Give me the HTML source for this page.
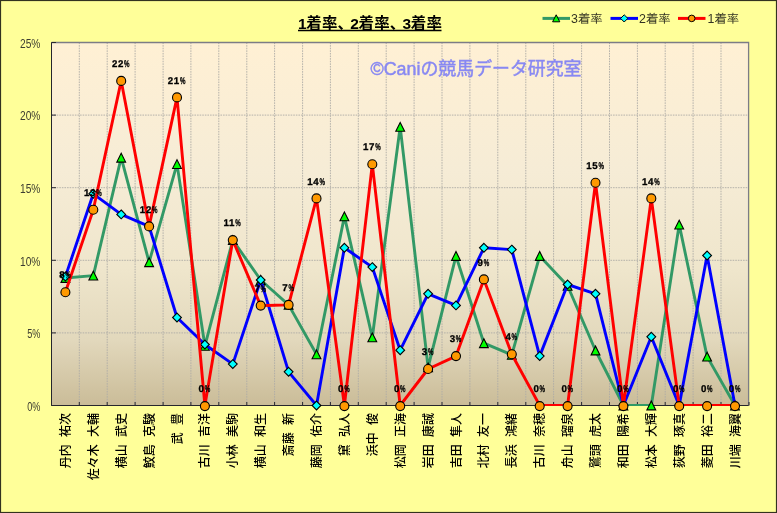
<!DOCTYPE html>
<html lang="ja"><head><meta charset="utf-8"><title>1着率、2着率、3着率</title>
<style>
html,body{margin:0;padding:0;background:#ffff99;}
body{width:777px;height:513px;overflow:hidden;}
svg{display:block;}
text{font-family:"Liberation Sans","Noto Sans CJK JP",sans-serif;}
.nm{font-family:"Liberation Sans","Noto Sans CJK JP",sans-serif;font-size:12px;font-weight:500;fill:#000;word-spacing:3.9px;}
.dl{font-family:"Liberation Sans","Noto Sans CJK JP",sans-serif;font-size:9.7px;font-weight:700;fill:#000;letter-spacing:0.7px;stroke:#000;stroke-width:0.3px;text-rendering:geometricPrecision;}
.dl .p{font-size:9.7px;letter-spacing:0;}
.ax{font-family:"Liberation Sans",sans-serif;font-size:12.5px;fill:#3c3c30;}
.lg{font-family:"Liberation Sans","IPAGothic","Noto Sans CJK JP",sans-serif;font-size:12.4px;fill:#333322;}
.ti{font-family:"Liberation Sans","Noto Sans CJK JP",sans-serif;font-size:15.5px;font-weight:700;fill:#000;}
.wm{font-family:"Liberation Sans","Noto Sans CJK JP",sans-serif;font-size:18px;fill:#8888f2;stroke:#8888f2;stroke-width:0.45px;}
</style></head><body>
<svg width="777" height="513" viewBox="0 0 777 513">
<defs>
<linearGradient id="pg" x1="0" y1="0" x2="0" y2="1">
<stop offset="0" stop-color="#fff0d4"/>
<stop offset="0.35" stop-color="#f6ecd6"/>
<stop offset="0.62" stop-color="#efe6cc"/>
<stop offset="0.82" stop-color="#e2d8bc"/>
<stop offset="1" stop-color="#cabc98"/>
</linearGradient>
<clipPath id="cp"><rect x="40" y="30" width="720" height="376.1"/></clipPath>
<filter id="bl" x="0" y="0" width="777" height="513" filterUnits="userSpaceOnUse"><feGaussianBlur stdDeviation="0.45"/></filter>
</defs>
<rect x="0" y="0" width="777" height="513" fill="#ffff99"/>
<rect x="0.5" y="0.5" width="776" height="512" fill="none" stroke="#33331f" stroke-width="1.2"/>
<g filter="url(#bl)">

<rect x="51.5" y="42.5" width="697.1" height="363.0" fill="url(#pg)"/>
<g stroke="#aeaca6" stroke-width="1" stroke-dasharray="1.6 1" fill="none" opacity="0.9">
<line x1="51.45" y1="332.9" x2="748.95" y2="332.9"/>
<line x1="51.45" y1="260.3" x2="748.95" y2="260.3"/>
<line x1="51.45" y1="187.7" x2="748.95" y2="187.7"/>
<line x1="51.45" y1="115.1" x2="748.95" y2="115.1"/>
<line x1="79.3" y1="42.5" x2="79.3" y2="405.5"/>
<line x1="107.2" y1="42.5" x2="107.2" y2="405.5"/>
<line x1="135.1" y1="42.5" x2="135.1" y2="405.5"/>
<line x1="163.1" y1="42.5" x2="163.1" y2="405.5"/>
<line x1="190.9" y1="42.5" x2="190.9" y2="405.5"/>
<line x1="218.8" y1="42.5" x2="218.8" y2="405.5"/>
<line x1="246.8" y1="42.5" x2="246.8" y2="405.5"/>
<line x1="274.6" y1="42.5" x2="274.6" y2="405.5"/>
<line x1="302.6" y1="42.5" x2="302.6" y2="405.5"/>
<line x1="330.4" y1="42.5" x2="330.4" y2="405.5"/>
<line x1="358.3" y1="42.5" x2="358.3" y2="405.5"/>
<line x1="386.2" y1="42.5" x2="386.2" y2="405.5"/>
<line x1="414.1" y1="42.5" x2="414.1" y2="405.5"/>
<line x1="442.0" y1="42.5" x2="442.0" y2="405.5"/>
<line x1="469.9" y1="42.5" x2="469.9" y2="405.5"/>
<line x1="497.8" y1="42.5" x2="497.8" y2="405.5"/>
<line x1="525.8" y1="42.5" x2="525.8" y2="405.5"/>
<line x1="553.6" y1="42.5" x2="553.6" y2="405.5"/>
<line x1="581.6" y1="42.5" x2="581.6" y2="405.5"/>
<line x1="609.5" y1="42.5" x2="609.5" y2="405.5"/>
<line x1="637.4" y1="42.5" x2="637.4" y2="405.5"/>
<line x1="665.2" y1="42.5" x2="665.2" y2="405.5"/>
<line x1="693.1" y1="42.5" x2="693.1" y2="405.5"/>
<line x1="721.0" y1="42.5" x2="721.0" y2="405.5"/>
</g>
<text class="wm" x="370.5" y="74.5" textLength="211" lengthAdjust="spacingAndGlyphs">©Caniの競馬データ研究室</text>
<path d="M51.5 42.5H748.6V405.5" fill="none" stroke="#7c7c86" stroke-width="1.3"/>
<path d="M51.5 42.5V405.5H748.6" fill="none" stroke="#26262e" stroke-width="1"/>
<g stroke="#26262e" stroke-width="1">
<line x1="51.45" y1="405.5" x2="55.95" y2="405.5"/>
<line x1="51.45" y1="332.9" x2="55.95" y2="332.9"/>
<line x1="51.45" y1="260.3" x2="55.95" y2="260.3"/>
<line x1="51.45" y1="187.7" x2="55.95" y2="187.7"/>
<line x1="51.45" y1="115.1" x2="55.95" y2="115.1"/>
<line x1="51.45" y1="42.5" x2="55.95" y2="42.5"/>
<line x1="51.5" y1="405.5" x2="51.5" y2="402.0"/>
<line x1="79.3" y1="405.5" x2="79.3" y2="402.0"/>
<line x1="107.2" y1="405.5" x2="107.2" y2="402.0"/>
<line x1="135.1" y1="405.5" x2="135.1" y2="402.0"/>
<line x1="163.1" y1="405.5" x2="163.1" y2="402.0"/>
<line x1="190.9" y1="405.5" x2="190.9" y2="402.0"/>
<line x1="218.8" y1="405.5" x2="218.8" y2="402.0"/>
<line x1="246.8" y1="405.5" x2="246.8" y2="402.0"/>
<line x1="274.6" y1="405.5" x2="274.6" y2="402.0"/>
<line x1="302.6" y1="405.5" x2="302.6" y2="402.0"/>
<line x1="330.4" y1="405.5" x2="330.4" y2="402.0"/>
<line x1="358.3" y1="405.5" x2="358.3" y2="402.0"/>
<line x1="386.2" y1="405.5" x2="386.2" y2="402.0"/>
<line x1="414.1" y1="405.5" x2="414.1" y2="402.0"/>
<line x1="442.0" y1="405.5" x2="442.0" y2="402.0"/>
<line x1="469.9" y1="405.5" x2="469.9" y2="402.0"/>
<line x1="497.8" y1="405.5" x2="497.8" y2="402.0"/>
<line x1="525.8" y1="405.5" x2="525.8" y2="402.0"/>
<line x1="553.6" y1="405.5" x2="553.6" y2="402.0"/>
<line x1="581.6" y1="405.5" x2="581.6" y2="402.0"/>
<line x1="609.5" y1="405.5" x2="609.5" y2="402.0"/>
<line x1="637.4" y1="405.5" x2="637.4" y2="402.0"/>
<line x1="665.2" y1="405.5" x2="665.2" y2="402.0"/>
<line x1="693.1" y1="405.5" x2="693.1" y2="402.0"/>
<line x1="721.0" y1="405.5" x2="721.0" y2="402.0"/>
<line x1="749.0" y1="405.5" x2="749.0" y2="402.0"/>
</g>
<text class="ax" x="40.4" y="410.7" text-anchor="end" textLength="13.2" lengthAdjust="spacingAndGlyphs">0%</text>
<text class="ax" x="40.4" y="338.1" text-anchor="end" textLength="13.2" lengthAdjust="spacingAndGlyphs">5%</text>
<text class="ax" x="40.4" y="265.5" text-anchor="end" textLength="20.4" lengthAdjust="spacingAndGlyphs">10%</text>
<text class="ax" x="40.4" y="192.9" text-anchor="end" textLength="20.4" lengthAdjust="spacingAndGlyphs">15%</text>
<text class="ax" x="40.4" y="120.3" text-anchor="end" textLength="20.4" lengthAdjust="spacingAndGlyphs">20%</text>
<text class="ax" x="40.4" y="47.7" text-anchor="end" textLength="20.4" lengthAdjust="spacingAndGlyphs">25%</text>
<polyline clip-path="url(#cp)" points="65.4,278.0 93.3,275.6 121.2,157.7 149.1,262.2 177.0,164.1 204.9,345.8 232.8,240.1 260.7,280.0 288.6,304.9 316.5,354.3 344.4,216.4 372.3,337.3 400.2,126.8 428.1,367.3 456.0,256.0 483.9,343.2 511.8,354.8 539.7,256.0 567.6,285.8 595.5,350.5 623.4,405.5 651.3,405.5 679.2,224.6 707.1,356.6 735.0,405.5" fill="none" stroke="#339966" stroke-width="2.9" stroke-linejoin="round"/>
<path d="M65.4 273.6L69.8 282.4H61.0Z" fill="#00ff00" stroke="#000" stroke-width="1.1" stroke-linejoin="miter"/>
<path d="M93.3 271.2L97.7 280.0H88.9Z" fill="#00ff00" stroke="#000" stroke-width="1.1" stroke-linejoin="miter"/>
<path d="M121.2 153.3L125.6 162.1H116.8Z" fill="#00ff00" stroke="#000" stroke-width="1.1" stroke-linejoin="miter"/>
<path d="M149.1 257.8L153.5 266.6H144.7Z" fill="#00ff00" stroke="#000" stroke-width="1.1" stroke-linejoin="miter"/>
<path d="M177.0 159.7L181.4 168.5H172.6Z" fill="#00ff00" stroke="#000" stroke-width="1.1" stroke-linejoin="miter"/>
<path d="M204.9 341.4L209.3 350.2H200.5Z" fill="#00ff00" stroke="#000" stroke-width="1.1" stroke-linejoin="miter"/>
<path d="M232.8 235.7L237.2 244.5H228.4Z" fill="#00ff00" stroke="#000" stroke-width="1.1" stroke-linejoin="miter"/>
<path d="M260.7 275.6L265.1 284.4H256.3Z" fill="#00ff00" stroke="#000" stroke-width="1.1" stroke-linejoin="miter"/>
<path d="M288.6 300.5L293.0 309.3H284.2Z" fill="#00ff00" stroke="#000" stroke-width="1.1" stroke-linejoin="miter"/>
<path d="M316.5 349.9L320.9 358.7H312.1Z" fill="#00ff00" stroke="#000" stroke-width="1.1" stroke-linejoin="miter"/>
<path d="M344.4 212.0L348.8 220.8H340.0Z" fill="#00ff00" stroke="#000" stroke-width="1.1" stroke-linejoin="miter"/>
<path d="M372.3 332.9L376.7 341.7H367.9Z" fill="#00ff00" stroke="#000" stroke-width="1.1" stroke-linejoin="miter"/>
<path d="M400.2 122.4L404.6 131.2H395.8Z" fill="#00ff00" stroke="#000" stroke-width="1.1" stroke-linejoin="miter"/>
<path d="M428.1 362.9L432.5 371.7H423.7Z" fill="#00ff00" stroke="#000" stroke-width="1.1" stroke-linejoin="miter"/>
<path d="M456.0 251.6L460.4 260.4H451.6Z" fill="#00ff00" stroke="#000" stroke-width="1.1" stroke-linejoin="miter"/>
<path d="M483.9 338.8L488.3 347.6H479.5Z" fill="#00ff00" stroke="#000" stroke-width="1.1" stroke-linejoin="miter"/>
<path d="M511.8 350.4L516.2 359.2H507.4Z" fill="#00ff00" stroke="#000" stroke-width="1.1" stroke-linejoin="miter"/>
<path d="M539.7 251.6L544.1 260.4H535.3Z" fill="#00ff00" stroke="#000" stroke-width="1.1" stroke-linejoin="miter"/>
<path d="M567.6 281.4L572.0 290.2H563.2Z" fill="#00ff00" stroke="#000" stroke-width="1.1" stroke-linejoin="miter"/>
<path d="M595.5 346.1L599.9 354.9H591.1Z" fill="#00ff00" stroke="#000" stroke-width="1.1" stroke-linejoin="miter"/>
<path d="M623.4 401.1L627.8 409.9H619.0Z" fill="#00ff00" stroke="#000" stroke-width="1.1" stroke-linejoin="miter"/>
<path d="M651.3 401.1L655.7 409.9H646.9Z" fill="#00ff00" stroke="#000" stroke-width="1.1" stroke-linejoin="miter"/>
<path d="M679.2 220.2L683.6 229.0H674.8Z" fill="#00ff00" stroke="#000" stroke-width="1.1" stroke-linejoin="miter"/>
<path d="M707.1 352.2L711.5 361.0H702.7Z" fill="#00ff00" stroke="#000" stroke-width="1.1" stroke-linejoin="miter"/>
<path d="M735.0 401.1L739.4 409.9H730.6Z" fill="#00ff00" stroke="#000" stroke-width="1.1" stroke-linejoin="miter"/>
<polyline clip-path="url(#cp)" points="65.4,276.6 93.3,193.8 121.2,214.4 149.1,226.4 177.0,317.5 204.9,344.5 232.8,364.1 260.7,280.0 288.6,371.8 316.5,405.5 344.4,247.8 372.3,267.1 400.2,350.2 428.1,293.8 456.0,305.4 483.9,247.8 511.8,249.6 539.7,356.1 567.6,284.5 595.5,293.8 623.4,405.5 651.3,336.8 679.2,405.5 707.1,255.5 735.0,405.5" fill="none" stroke="#0000ff" stroke-width="2.9" stroke-linejoin="round"/>
<path d="M65.4 272.2L69.8 276.6L65.4 281.0L61.0 276.6Z" fill="#00ffff" stroke="#000" stroke-width="1.1"/>
<path d="M93.3 189.4L97.7 193.8L93.3 198.2L88.9 193.8Z" fill="#00ffff" stroke="#000" stroke-width="1.1"/>
<path d="M121.2 210.0L125.6 214.4L121.2 218.8L116.8 214.4Z" fill="#00ffff" stroke="#000" stroke-width="1.1"/>
<path d="M149.1 222.0L153.5 226.4L149.1 230.8L144.7 226.4Z" fill="#00ffff" stroke="#000" stroke-width="1.1"/>
<path d="M177.0 313.1L181.4 317.5L177.0 321.9L172.6 317.5Z" fill="#00ffff" stroke="#000" stroke-width="1.1"/>
<path d="M204.9 340.1L209.3 344.5L204.9 348.9L200.5 344.5Z" fill="#00ffff" stroke="#000" stroke-width="1.1"/>
<path d="M232.8 359.7L237.2 364.1L232.8 368.5L228.4 364.1Z" fill="#00ffff" stroke="#000" stroke-width="1.1"/>
<path d="M260.7 275.6L265.1 280.0L260.7 284.4L256.3 280.0Z" fill="#00ffff" stroke="#000" stroke-width="1.1"/>
<path d="M288.6 367.4L293.0 371.8L288.6 376.2L284.2 371.8Z" fill="#00ffff" stroke="#000" stroke-width="1.1"/>
<path d="M316.5 401.1L320.9 405.5L316.5 409.9L312.1 405.5Z" fill="#00ffff" stroke="#000" stroke-width="1.1"/>
<path d="M344.4 243.4L348.8 247.8L344.4 252.2L340.0 247.8Z" fill="#00ffff" stroke="#000" stroke-width="1.1"/>
<path d="M372.3 262.7L376.7 267.1L372.3 271.5L367.9 267.1Z" fill="#00ffff" stroke="#000" stroke-width="1.1"/>
<path d="M400.2 345.8L404.6 350.2L400.2 354.6L395.8 350.2Z" fill="#00ffff" stroke="#000" stroke-width="1.1"/>
<path d="M428.1 289.4L432.5 293.8L428.1 298.2L423.7 293.8Z" fill="#00ffff" stroke="#000" stroke-width="1.1"/>
<path d="M456.0 301.0L460.4 305.4L456.0 309.8L451.6 305.4Z" fill="#00ffff" stroke="#000" stroke-width="1.1"/>
<path d="M483.9 243.4L488.3 247.8L483.9 252.2L479.5 247.8Z" fill="#00ffff" stroke="#000" stroke-width="1.1"/>
<path d="M511.8 245.2L516.2 249.6L511.8 254.0L507.4 249.6Z" fill="#00ffff" stroke="#000" stroke-width="1.1"/>
<path d="M539.7 351.7L544.1 356.1L539.7 360.5L535.3 356.1Z" fill="#00ffff" stroke="#000" stroke-width="1.1"/>
<path d="M567.6 280.1L572.0 284.5L567.6 288.9L563.2 284.5Z" fill="#00ffff" stroke="#000" stroke-width="1.1"/>
<path d="M595.5 289.4L599.9 293.8L595.5 298.2L591.1 293.8Z" fill="#00ffff" stroke="#000" stroke-width="1.1"/>
<path d="M623.4 401.1L627.8 405.5L623.4 409.9L619.0 405.5Z" fill="#00ffff" stroke="#000" stroke-width="1.1"/>
<path d="M651.3 332.4L655.7 336.8L651.3 341.2L646.9 336.8Z" fill="#00ffff" stroke="#000" stroke-width="1.1"/>
<path d="M679.2 401.1L683.6 405.5L679.2 409.9L674.8 405.5Z" fill="#00ffff" stroke="#000" stroke-width="1.1"/>
<path d="M707.1 251.1L711.5 255.5L707.1 259.9L702.7 255.5Z" fill="#00ffff" stroke="#000" stroke-width="1.1"/>
<path d="M735.0 401.1L739.4 405.5L735.0 409.9L730.6 405.5Z" fill="#00ffff" stroke="#000" stroke-width="1.1"/>
<polyline clip-path="url(#cp)" points="65.4,292.2 93.3,209.7 121.2,80.9 149.1,226.4 177.0,97.4 204.9,405.5 232.8,240.1 260.7,305.6 288.6,304.9 316.5,198.4 344.4,405.5 372.3,164.2 400.2,405.5 428.1,369.0 456.0,356.1 483.9,279.4 511.8,354.3 539.7,405.5 567.6,405.5 595.5,182.7 623.4,405.5 651.3,198.4 679.2,405.5 707.1,405.5 735.0,405.5" fill="none" stroke="#ff0000" stroke-width="2.9" stroke-linejoin="round"/>
<circle cx="65.4" cy="292.2" r="4.5" fill="#ff9900" stroke="#000" stroke-width="1.1"/>
<circle cx="93.3" cy="209.7" r="4.5" fill="#ff9900" stroke="#000" stroke-width="1.1"/>
<circle cx="121.2" cy="80.9" r="4.5" fill="#ff9900" stroke="#000" stroke-width="1.1"/>
<circle cx="149.1" cy="226.4" r="4.5" fill="#ff9900" stroke="#000" stroke-width="1.1"/>
<circle cx="177.0" cy="97.4" r="4.5" fill="#ff9900" stroke="#000" stroke-width="1.1"/>
<circle cx="204.9" cy="406.1" r="4.5" fill="#ff9900" stroke="#000" stroke-width="1.1"/>
<circle cx="232.8" cy="240.1" r="4.5" fill="#ff9900" stroke="#000" stroke-width="1.1"/>
<circle cx="260.7" cy="305.6" r="4.5" fill="#ff9900" stroke="#000" stroke-width="1.1"/>
<circle cx="288.6" cy="304.9" r="4.5" fill="#ff9900" stroke="#000" stroke-width="1.1"/>
<circle cx="316.5" cy="198.4" r="4.5" fill="#ff9900" stroke="#000" stroke-width="1.1"/>
<circle cx="344.4" cy="406.1" r="4.5" fill="#ff9900" stroke="#000" stroke-width="1.1"/>
<circle cx="372.3" cy="164.2" r="4.5" fill="#ff9900" stroke="#000" stroke-width="1.1"/>
<circle cx="400.2" cy="406.1" r="4.5" fill="#ff9900" stroke="#000" stroke-width="1.1"/>
<circle cx="428.1" cy="369.0" r="4.5" fill="#ff9900" stroke="#000" stroke-width="1.1"/>
<circle cx="456.0" cy="356.1" r="4.5" fill="#ff9900" stroke="#000" stroke-width="1.1"/>
<circle cx="483.9" cy="279.4" r="4.5" fill="#ff9900" stroke="#000" stroke-width="1.1"/>
<circle cx="511.8" cy="354.3" r="4.5" fill="#ff9900" stroke="#000" stroke-width="1.1"/>
<circle cx="539.7" cy="406.1" r="4.5" fill="#ff9900" stroke="#000" stroke-width="1.1"/>
<circle cx="567.6" cy="406.1" r="4.5" fill="#ff9900" stroke="#000" stroke-width="1.1"/>
<circle cx="595.5" cy="182.7" r="4.5" fill="#ff9900" stroke="#000" stroke-width="1.1"/>
<circle cx="623.4" cy="406.1" r="4.5" fill="#ff9900" stroke="#000" stroke-width="1.1"/>
<circle cx="651.3" cy="198.4" r="4.5" fill="#ff9900" stroke="#000" stroke-width="1.1"/>
<circle cx="679.2" cy="406.1" r="4.5" fill="#ff9900" stroke="#000" stroke-width="1.1"/>
<circle cx="707.1" cy="406.1" r="4.5" fill="#ff9900" stroke="#000" stroke-width="1.1"/>
<circle cx="735.0" cy="406.1" r="4.5" fill="#ff9900" stroke="#000" stroke-width="1.1"/>
<text class="dl" x="59.2" y="278.3">8<tspan class="p" textLength="5.5" lengthAdjust="spacingAndGlyphs">%</tspan></text>
<text class="dl" x="84.0" y="195.8">13<tspan class="p" textLength="5.5" lengthAdjust="spacingAndGlyphs">%</tspan></text>
<text class="dl" x="111.9" y="67.0">22<tspan class="p" textLength="5.5" lengthAdjust="spacingAndGlyphs">%</tspan></text>
<text class="dl" x="139.8" y="212.5">12<tspan class="p" textLength="5.5" lengthAdjust="spacingAndGlyphs">%</tspan></text>
<text class="dl" x="167.7" y="83.5">21<tspan class="p" textLength="5.5" lengthAdjust="spacingAndGlyphs">%</tspan></text>
<text class="dl" x="198.6" y="391.6">0<tspan class="p" textLength="5.5" lengthAdjust="spacingAndGlyphs">%</tspan></text>
<text class="dl" x="223.5" y="226.2">11<tspan class="p" textLength="5.5" lengthAdjust="spacingAndGlyphs">%</tspan></text>
<text class="dl" x="254.4" y="291.7">7<tspan class="p" textLength="5.5" lengthAdjust="spacingAndGlyphs">%</tspan></text>
<text class="dl" x="282.3" y="291.0">7<tspan class="p" textLength="5.5" lengthAdjust="spacingAndGlyphs">%</tspan></text>
<text class="dl" x="307.2" y="184.5">14<tspan class="p" textLength="5.5" lengthAdjust="spacingAndGlyphs">%</tspan></text>
<text class="dl" x="338.1" y="391.6">0<tspan class="p" textLength="5.5" lengthAdjust="spacingAndGlyphs">%</tspan></text>
<text class="dl" x="363.0" y="150.3">17<tspan class="p" textLength="5.5" lengthAdjust="spacingAndGlyphs">%</tspan></text>
<text class="dl" x="393.9" y="391.6">0<tspan class="p" textLength="5.5" lengthAdjust="spacingAndGlyphs">%</tspan></text>
<text class="dl" x="421.8" y="355.1">3<tspan class="p" textLength="5.5" lengthAdjust="spacingAndGlyphs">%</tspan></text>
<text class="dl" x="449.7" y="342.2">3<tspan class="p" textLength="5.5" lengthAdjust="spacingAndGlyphs">%</tspan></text>
<text class="dl" x="477.6" y="265.5">9<tspan class="p" textLength="5.5" lengthAdjust="spacingAndGlyphs">%</tspan></text>
<text class="dl" x="505.5" y="340.4">4<tspan class="p" textLength="5.5" lengthAdjust="spacingAndGlyphs">%</tspan></text>
<text class="dl" x="533.5" y="391.6">0<tspan class="p" textLength="5.5" lengthAdjust="spacingAndGlyphs">%</tspan></text>
<text class="dl" x="561.4" y="391.6">0<tspan class="p" textLength="5.5" lengthAdjust="spacingAndGlyphs">%</tspan></text>
<text class="dl" x="586.2" y="168.8">15<tspan class="p" textLength="5.5" lengthAdjust="spacingAndGlyphs">%</tspan></text>
<text class="dl" x="617.1" y="391.6">0<tspan class="p" textLength="5.5" lengthAdjust="spacingAndGlyphs">%</tspan></text>
<text class="dl" x="642.0" y="184.5">14<tspan class="p" textLength="5.5" lengthAdjust="spacingAndGlyphs">%</tspan></text>
<text class="dl" x="673.0" y="391.6">0<tspan class="p" textLength="5.5" lengthAdjust="spacingAndGlyphs">%</tspan></text>
<text class="dl" x="700.9" y="391.6">0<tspan class="p" textLength="5.5" lengthAdjust="spacingAndGlyphs">%</tspan></text>
<text class="dl" x="728.8" y="391.6">0<tspan class="p" textLength="5.5" lengthAdjust="spacingAndGlyphs">%</tspan></text>
<text class="nm" transform="translate(69.9,413.1) rotate(-90)" text-anchor="end">丹内 祐次</text>
<text class="nm" transform="translate(97.8,413.1) rotate(-90)" text-anchor="end">佐々木 大輔</text>
<text class="nm" transform="translate(125.7,413.1) rotate(-90)" text-anchor="end">横山 武史</text>
<text class="nm" transform="translate(153.6,413.1) rotate(-90)" text-anchor="end">鮫島 克駿</text>
<text class="nm" transform="translate(181.5,413.1) rotate(-90)" text-anchor="end">武 豊</text>
<text class="nm" transform="translate(209.4,413.1) rotate(-90)" text-anchor="end">古川 吉洋</text>
<text class="nm" transform="translate(237.3,413.1) rotate(-90)" text-anchor="end">小林 美駒</text>
<text class="nm" transform="translate(265.2,413.1) rotate(-90)" text-anchor="end">横山 和生</text>
<text class="nm" transform="translate(293.1,413.1) rotate(-90)" text-anchor="end">斎藤 新</text>
<text class="nm" transform="translate(321.0,413.1) rotate(-90)" text-anchor="end">藤岡 佑介</text>
<text class="nm" transform="translate(348.9,413.1) rotate(-90)" text-anchor="end">黛 弘人</text>
<text class="nm" transform="translate(376.8,413.1) rotate(-90)" text-anchor="end">浜中 俊</text>
<text class="nm" transform="translate(404.7,413.1) rotate(-90)" text-anchor="end">松岡 正海</text>
<text class="nm" transform="translate(432.6,413.1) rotate(-90)" text-anchor="end">岩田 康誠</text>
<text class="nm" transform="translate(460.5,413.1) rotate(-90)" text-anchor="end">吉田 隼人</text>
<text class="nm" transform="translate(488.4,413.1) rotate(-90)" text-anchor="end">北村 友一</text>
<text class="nm" transform="translate(516.3,413.1) rotate(-90)" text-anchor="end">長浜 鴻緒</text>
<text class="nm" transform="translate(544.2,413.1) rotate(-90)" text-anchor="end">古川 奈穂</text>
<text class="nm" transform="translate(572.1,413.1) rotate(-90)" text-anchor="end">舟山 瑠泉</text>
<text class="nm" transform="translate(600.0,413.1) rotate(-90)" text-anchor="end">鷲頭 虎太</text>
<text class="nm" transform="translate(627.9,413.1) rotate(-90)" text-anchor="end">和田 陽希</text>
<text class="nm" transform="translate(655.8,413.1) rotate(-90)" text-anchor="end">松本 大輝</text>
<text class="nm" transform="translate(683.7,413.1) rotate(-90)" text-anchor="end">荻野 琢真</text>
<text class="nm" transform="translate(711.6,413.1) rotate(-90)" text-anchor="end">菱田 裕二</text>
<text class="nm" transform="translate(739.5,413.1) rotate(-90)" text-anchor="end">川端 海翼</text>
<text class="ti" y="28.6" x="298.0 306.2 322.0 337.5 350.3 358.5 374.3 389.8 402.6 410.8 426.6">1着率、2着率、3着率</text>
<line x1="298" y1="30.5" x2="441.5" y2="30.5" stroke="#000" stroke-width="1.3"/>
<line x1="542.5" y1="18.4" x2="570.0" y2="18.4" stroke="#339966" stroke-width="3"/>
<path d="M556.2 14.8L559.8000000000001 21.8H552.6Z" fill="#00ff00" stroke="#000" stroke-width="1"/>
<text class="lg" x="571" y="22.6">3着率</text>
<line x1="610.5" y1="18.4" x2="638.0" y2="18.4" stroke="#0000ff" stroke-width="3"/>
<path d="M624.2 14.8L627.8000000000001 18.4L624.2 22.0L620.6 18.4Z" fill="#00ffff" stroke="#000" stroke-width="1"/>
<text class="lg" x="639" y="22.6">2着率</text>
<line x1="678" y1="18.4" x2="705.5" y2="18.4" stroke="#ff0000" stroke-width="3"/>
<circle cx="691.7" cy="18.4" r="3.3" fill="#ff9900" stroke="#000" stroke-width="1"/>
<text class="lg" x="707.5" y="22.6">1着率</text>
</g>
</svg></body></html>
